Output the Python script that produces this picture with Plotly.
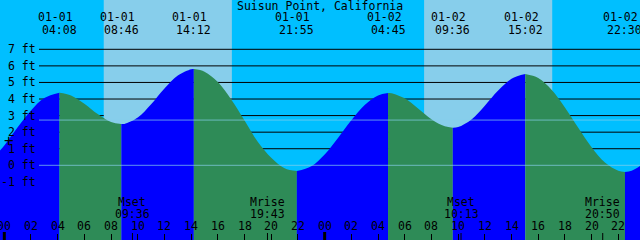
import plotly.graph_objects as go

# ---------------- data ----------------
title = "Suisun Point, California"

# tide extremes (hours after 01-01 00:00)
event_dates = ["01-01", "01-01", "01-01", "01-01", "01-02", "01-02", "01-02", "01-02"]
event_times = ["04:08", "08:46", "14:12", "21:55", "04:45", "09:36", "15:02", "22:30"]
event_hours = [4.133, 8.767, 14.2, 21.917, 28.75, 33.6, 39.033, 46.5]
event_heights = [4.38, 2.49, 5.81, -0.35, 4.36, 2.27, 5.51, -0.40]

# tide height, hourly (ft)
curve_hours = [-1, 0, 1, 2, 3, 5, 6, 7, 8, 9, 10, 11, 12, 13, 14, 15, 16, 17, 18, 19, 20, 21,
               23, 24, 25, 26, 27, 28, 29, 30, 31, 32, 33, 34, 35, 36, 37, 38, 40, 41, 42, 43,
               44, 45, 46, 47, 48]
curve_heights = [0.28, 1.20, 2.29, 3.31, 4.06, 4.22, 3.72, 3.09, 2.61, 2.50, 2.89, 3.69, 4.64,
                 5.42, 5.80, 5.65, 5.02, 3.97, 2.70, 1.40, 0.45, -0.18, -0.06, 0.65, 1.65, 2.72,
                 3.64, 4.22, 4.35, 4.04, 3.43, 2.78, 2.35, 2.31, 2.77, 3.60, 4.51, 5.23, 5.27,
                 4.56, 3.49, 2.26, 1.09, 0.17, -0.33, -0.33, 0.16]

# daylight
sunrise_hours = [7.45, 31.45]
sunset_hours = [17.05, 41.05]

# moon events
moon_labels = ["Mset", "Mrise", "Mset", "Mrise"]
moon_times = ["09:36", "19:43", "10:13", "20:50"]
moon_hours = [9.6, 19.717, 34.217, 44.833]

# axis labels
depth_levels = [7, 6, 5, 4, 3, 2, 1, 0, -1]
depth_labels = ["7 ft", "6 ft", "5 ft", "4 ft", "3 ft", "2 ft", "1 ft", "0 ft", "-1 ft"]
black_line_levels = [7, 6, 5, 4, 3, 2, 1]
mean_level = 2.73
datum_level = 0
hour_ticks = list(range(0, 49, 2))
hour_tick_labels = ["%02d" % (h % 24) for h in hour_ticks]
midnights = [0, 24]

# ---------------- style ----------------
W, H = 640, 240
NIGHT = "#00BFFF"
DAY = "#87CEEB"
RISE = "#0000FF"
FALL = "#2E8B57"
FONT = dict(family="DejaVu Sans Mono", size=11.5, color="black")
X_RANGE = [-0.322, 47.626]
Y_RANGE = [-4.508, 9.976]
BASE = -6


def py(pix):
    """pixel row -> paper y"""
    return 1 - pix / H


def px(pix):
    return pix / W


fig = go.Figure()

# build tide curve segments split at extremes
pts = sorted(list(zip(curve_hours, curve_heights)) + list(zip(event_hours, event_heights)))
cuts = [pts[0][0]] + event_hours + [pts[-1][0]]
for a, b in zip(cuts[:-1], cuts[1:]):
    seg = [p for p in pts if a <= p[0] <= b]
    xs = [p[0] for p in seg]
    ys = [p[1] for p in seg]
    color = RISE if ys[-1] > ys[0] else FALL
    fig.add_trace(go.Scatter(x=[xs[0], xs[-1]], y=[BASE, BASE], mode="lines",
                             line=dict(width=0), hoverinfo="skip"))
    fig.add_trace(go.Scatter(x=xs, y=ys, mode="lines", line=dict(width=0, shape="spline"),
                             fill="tonexty", fillcolor=color, hoverinfo="skip"))

shapes = []
# day bands
for s, e in zip(sunrise_hours, sunset_hours):
    shapes.append(dict(type="rect", xref="x", yref="paper", x0=s, x1=e, y0=0, y1=1,
                       fillcolor=DAY, line=dict(width=0), layer="below"))
# depth lines (behind the water)
x_line_start = X_RANGE[0] + (X_RANGE[1] - X_RANGE[0]) * 39 / W
for lv in black_line_levels:
    spans = [(x_line_start, X_RANGE[1] + 1)]
    if lv <= 3:
        spans = []
        edges = [x_line_start] + [v for pair in zip(sunrise_hours, sunset_hours) for v in pair] + [X_RANGE[1] + 1]
        for i in range(0, len(edges), 2):
            spans.append((edges[i], edges[i + 1]))
    for x0, x1 in spans:
        shapes.append(dict(type="line", xref="x", yref="y", x0=x0, x1=x1, y0=lv, y1=lv,
                           line=dict(color="black", width=1), layer="below"))
# mean and datum lines (on top)
for lv in [mean_level, datum_level]:
    shapes.append(dict(type="line", xref="x", yref="y", x0=x_line_start, x1=X_RANGE[1] + 1,
                       y0=lv, y1=lv, line=dict(color="rgba(135,206,235,0.7)", width=1),
                       layer="above"))
# midnight ticks and moon ticks
for m in midnights:
    shapes.append(dict(type="line", xref="x", yref="paper", x0=m, x1=m, y0=0, y1=py(232),
                       line=dict(color="black", width=3), layer="above"))
for m in moon_hours:
    shapes.append(dict(type="line", xref="x", yref="paper", x0=m, x1=m, y0=0, y1=py(233),
                       line=dict(color="black", width=1), layer="above"))

ann = []
ann.append(dict(text=title, xref="paper", yref="paper", x=0.5, y=py(6), showarrow=False,
                xanchor="center", yanchor="middle", font=FONT))
for d, t, h in zip(event_dates, event_times, event_hours):
    ann.append(dict(text=d, xref="x", yref="paper", x=h, y=py(17.5), xshift=-4,
                    showarrow=False, xanchor="center", yanchor="middle", font=FONT))
    ann.append(dict(text=t, xref="x", yref="paper", x=h, y=py(29.5),
                    showarrow=False, xanchor="center", yanchor="middle", font=FONT))
for lv, lab in zip(depth_levels, depth_labels):
    ann.append(dict(text=lab, xref="paper", yref="y", x=px(37.5), y=lv, showarrow=False,
                    xanchor="right", yanchor="middle", font=FONT))
ann.append(dict(text="+", xref="paper", yref="paper", x=px(8.5), y=py(140), showarrow=False,
                xanchor="center", yanchor="middle",
                font=dict(family="DejaVu Sans Mono", size=16, color="black")))
for lab, t, h in zip(moon_labels, moon_times, moon_hours):
    ann.append(dict(text=lab, xref="x", yref="paper", x=h, y=py(202), showarrow=False,
                    xanchor="center", yanchor="middle", font=FONT))
    ann.append(dict(text=t, xref="x", yref="paper", x=h, y=py(213.5), showarrow=False,
                    xanchor="center", yanchor="middle", font=FONT))
for h, lab in zip(hour_ticks, hour_tick_labels):
    ann.append(dict(text=lab, xref="x", yref="paper", x=h, y=py(225.5), showarrow=False,
                    xanchor="center", yanchor="middle", font=FONT))

fig.update_layout(
    width=W, height=H, margin=dict(l=0, r=0, t=0, b=0, pad=0),
    paper_bgcolor=NIGHT, plot_bgcolor=NIGHT, showlegend=False,
    shapes=shapes, annotations=ann,
    xaxis=dict(range=X_RANGE, showgrid=False, zeroline=False, showticklabels=False,
               ticks="inside", tickvals=hour_ticks[:-1], ticklen=6, tickwidth=1,
               tickcolor="black", showline=False, fixedrange=True),
    yaxis=dict(range=Y_RANGE, showgrid=False, zeroline=False, showticklabels=False,
               ticks="", showline=False, fixedrange=True),
)

fig.write_html("out.html", config=dict(displayModeBar=False))
